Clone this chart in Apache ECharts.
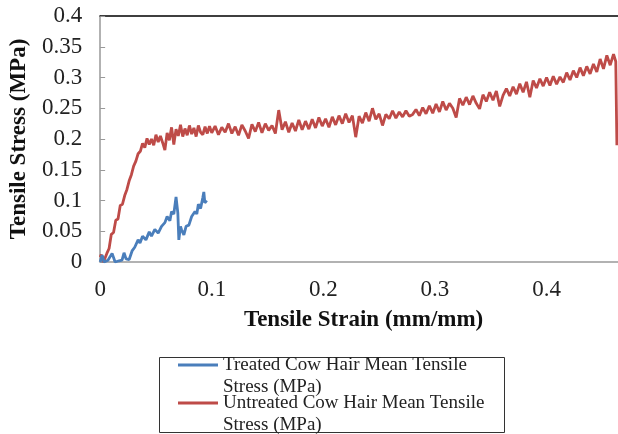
<!DOCTYPE html>
<html>
<head>
<meta charset="utf-8">
<script src="https://cdn.jsdelivr.net/npm/echarts@6/dist/echarts.min.js"></script>
<style>html,body{margin:0;padding:0;background:#fff;}#chart{width:618px;height:434px;}</style>
</head>
<body>
<div id="chart"></div>
<script>
const seriesNames = [
  'Treated Cow Hair Mean Tensile Stress (MPa)',
  'Untreated Cow Hair Mean Tensile Stress (MPa)'
];
const legendLabels = [
  'Treated Cow Hair Mean Tensile\nStress (MPa)',
  'Untreated Cow Hair Mean Tensile\nStress (MPa)'
];
const xTicks = [0, 0.1, 0.2, 0.3, 0.4];
const yTicks = [0, 0.05, 0.1, 0.15, 0.2, 0.25, 0.3, 0.35, 0.4];

// Treated cow hair: strain / stress
const treatedStrain = [0, 0.0018, 0.0036, 0.007, 0.0107, 0.0134, 0.017, 0.0196, 0.0214, 0.0232, 0.026, 0.0286, 0.031, 0.034, 0.0357, 0.038, 0.041, 0.044, 0.046, 0.049, 0.052, 0.055, 0.058, 0.060, 0.0625, 0.064, 0.066, 0.068, 0.0696, 0.0705, 0.072, 0.073, 0.075, 0.077, 0.0795, 0.082, 0.085, 0.0866, 0.088, 0.090, 0.092, 0.0929, 0.0938, 0.0955];
const treatedStress = [0, 0.011, 0, 0.003, 0.014, 0, 0.002, 0.003, 0.015, 0.005, 0.004, 0.018, 0.024, 0.036, 0.031, 0.042, 0.036, 0.049, 0.042, 0.053, 0.047, 0.058, 0.064, 0.074, 0.067, 0.082, 0.078, 0.106, 0.080, 0.036, 0.058, 0.052, 0.044, 0.058, 0.060, 0.074, 0.082, 0.078, 0.094, 0.087, 0.105, 0.114, 0.096, 0.100];

// Untreated cow hair: strain / stress
const untreatedStrain = [0, 0.001, 0.002, 0.003, 0.0045, 0.006, 0.008, 0.010, 0.012, 0.014, 0.016, 0.018, 0.020, 0.022, 0.024, 0.026, 0.028, 0.030, 0.032, 0.034, 0.036, 0.038, 0.040, 0.042, 0.044, 0.046, 0.048, 0.050, 0.052, 0.054, 0.056, 0.058, 0.060, 0.062, 0.064, 0.066, 0.068, 0.070, 0.072, 0.074, 0.076, 0.078, 0.080, 0.082, 0.084, 0.086, 0.088, 0.090, 0.092, 0.094, 0.096, 0.098,
  0.100, 0.103, 0.106, 0.109, 0.112, 0.115, 0.118, 0.121, 0.124, 0.127, 0.130, 0.133, 0.136, 0.139, 0.142, 0.145, 0.148, 0.151, 0.154, 0.157, 0.160, 0.163, 0.166, 0.169, 0.172, 0.175, 0.178, 0.181, 0.184, 0.187, 0.190, 0.193, 0.196, 0.199,
  0.202, 0.205, 0.208, 0.211, 0.214, 0.217, 0.220, 0.223, 0.226, 0.229, 0.232, 0.235, 0.238, 0.241, 0.244, 0.247, 0.250, 0.253, 0.256, 0.259, 0.262, 0.265, 0.268, 0.271, 0.274, 0.277, 0.280, 0.283, 0.286, 0.289, 0.292, 0.295, 0.298,
  0.301, 0.304, 0.307, 0.310, 0.313, 0.316, 0.319, 0.322, 0.325, 0.328, 0.331, 0.334, 0.337, 0.340, 0.343, 0.346, 0.349, 0.352, 0.355, 0.358, 0.361, 0.364, 0.367, 0.370, 0.373, 0.376, 0.379, 0.382, 0.385, 0.388, 0.391, 0.394, 0.397,
  0.400, 0.403, 0.406, 0.409, 0.412, 0.415, 0.418, 0.421, 0.424, 0.427, 0.430, 0.433, 0.436, 0.439, 0.442, 0.445, 0.448, 0.451, 0.454, 0.457, 0.460, 0.462, 0.463];
const untreatedStress = [0.008, 0.012, 0.004, 0.0, 0.0, 0.014, 0.022, 0.045, 0.048, 0.068, 0.070, 0.092, 0.094, 0.108, 0.118, 0.132, 0.142, 0.156, 0.164, 0.176, 0.180, 0.193, 0.186, 0.201, 0.191, 0.200, 0.190, 0.207, 0.195, 0.205, 0.194, 0.182, 0.210, 0.198, 0.219, 0.191, 0.216, 0.205, 0.223, 0.204, 0.217, 0.206, 0.222, 0.208, 0.218, 0.204, 0.222, 0.211, 0.207, 0.220, 0.209, 0.221,
  0.210, 0.221, 0.207, 0.219, 0.211, 0.225, 0.209, 0.220, 0.206, 0.223, 0.213, 0.201, 0.224, 0.212, 0.227, 0.210, 0.225, 0.214, 0.222, 0.209, 0.247, 0.215, 0.228, 0.211, 0.226, 0.213, 0.231, 0.215, 0.229, 0.216, 0.232, 0.218, 0.235, 0.221,
  0.233, 0.219, 0.236, 0.223, 0.238, 0.225, 0.241, 0.227, 0.238, 0.203, 0.237, 0.226, 0.243, 0.229, 0.250, 0.232, 0.241, 0.222, 0.240, 0.233, 0.246, 0.234, 0.244, 0.236, 0.246, 0.237, 0.240, 0.248, 0.238, 0.251, 0.241, 0.254, 0.242,
  0.257, 0.244, 0.261, 0.247, 0.258, 0.250, 0.235, 0.266, 0.255, 0.268, 0.256, 0.270, 0.258, 0.249, 0.272, 0.261, 0.276, 0.263, 0.278, 0.253, 0.271, 0.282, 0.270, 0.285, 0.273, 0.290, 0.276, 0.293, 0.268, 0.295, 0.283, 0.298, 0.286,
  0.300, 0.287, 0.302, 0.289, 0.301, 0.292, 0.308, 0.296, 0.311, 0.300, 0.316, 0.303, 0.318, 0.306, 0.322, 0.309, 0.330, 0.314, 0.336, 0.320, 0.338, 0.326, 0.190];

const treatedData = treatedStrain.map((x, i) => [x, treatedStress[i]]);
const untreatedData = untreatedStrain.map((x, i) => [x, untreatedStress[i]]);

const FONT = "'Liberation Serif', 'Times New Roman', serif";
const chart = echarts.init(document.getElementById('chart'), null, {renderer: 'canvas'});
chart.setOption({
  animation: false,
  backgroundColor: '#fff',
  grid: {left: 98, top: 16, right: 0, bottom: 172, containLabel: false},
  graphic: [{
    type: 'rect',
    shape: {x: 159.5, y: 357.5, width: 345, height: 75},
    style: {fill: 'none', stroke: '#333', lineWidth: 1}, z: 0
  }],
  legend: {
    orient: 'vertical', left: 178, top: 332, height: 120,
    padding: 0, itemGap: -28,
    itemWidth: 40, itemHeight: 3, icon: 'rect',
    data: seriesNames,
    formatter: (name) => ' \n' + legendLabels[seriesNames.indexOf(name)],
    textStyle: {fontFamily: FONT, fontSize: 19, color: '#222', lineHeight: 22}
  },
  xAxis: [{
    type: 'value', min: 0, max: 0.464, interval: 0.1,
    name: 'Tensile Strain (mm/mm)', nameLocation: 'middle', nameGap: 47,
    nameTextStyle: {fontFamily: FONT, fontSize: 23, fontWeight: 'bold', color: '#111', padding: [0, 0, 0, 9]},
    axisLine: {show: true, lineStyle: {color: '#999', width: 1.5}},
    axisTick: {show: false},
    splitLine: {show: false},
    axisLabel: {fontFamily: FONT, fontSize: 23, color: '#222', margin: 16, showMaxLabel: false,
      formatter: (v) => { const r = Math.round(v * 10) / 10; return (Math.abs(v - r) < 1e-6 && xTicks.indexOf(r) >= 0) ? String(r) : ''; }}
  }, {
    type: 'value', position: 'top', min: 0, max: 0.464,
    axisLine: {show: true, onZero: false, lineStyle: {color: '#000', width: 1.5}},
    axisTick: {show: false}, axisLabel: {show: false}, splitLine: {show: false}
  }],
  yAxis: {
    type: 'value', min: 0, max: 0.4, interval: 0.05,
    name: 'Tensile Stress (MPa)', nameLocation: 'middle', nameGap: 66,
    nameTextStyle: {fontFamily: FONT, fontSize: 23, fontWeight: 'bold', color: '#111'},
    axisLine: {show: true, lineStyle: {color: '#999', width: 1.5}},
    axisTick: {show: true, inside: true, length: 5, lineStyle: {color: '#999'}},
    splitLine: {show: false},
    axisLabel: {fontFamily: FONT, fontSize: 23, color: '#222', margin: 18,
      formatter: (v) => { const r = Math.round(v * 100) / 100; return yTicks.indexOf(r) >= 0 ? String(r) : ''; }}
  },
  series: [{
    name: seriesNames[0], type: 'line', data: treatedData, showSymbol: false,
    lineStyle: {color: '#4A7EBB', width: 2.8}, itemStyle: {color: '#4A7EBB'}, z: 3
  }, {
    name: seriesNames[1], type: 'line', data: untreatedData, showSymbol: false,
    lineStyle: {color: '#BE4B48', width: 2.8}, itemStyle: {color: '#BE4B48'}, z: 2
  }]
});
</script>
</body>
</html>
